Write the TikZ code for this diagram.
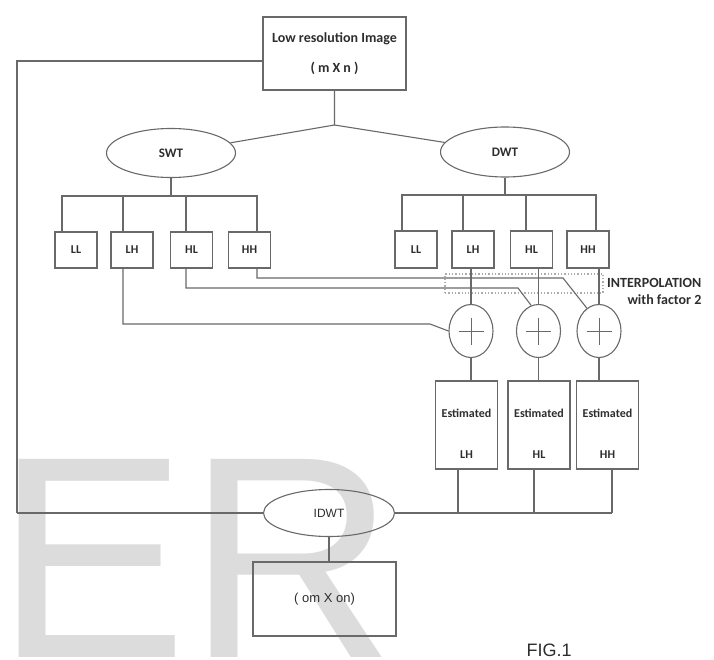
\documentclass[tikz,border=0pt]{standalone}
\usepackage{fontspec}
\setmainfont{Carlito}
\newfontfamily\arialfont{Liberation Sans}
\usetikzlibrary{positioning,shapes.geometric}
\definecolor{wline}{RGB}{105,105,105}
\definecolor{wtext}{RGB}{45,45,45}
\definecolor{wmark}{RGB}{220,220,220}

\begin{document}
\begin{tikzpicture}[x=1pt, y=-1pt,
    box/.style={rectangle, draw=wline, line width=1.1pt, inner sep=0pt, align=center,
                text=wtext, font=\bfseries\fontsize{12}{14}\selectfont},
    oval/.style={ellipse, draw=wline, line width=1.1pt, inner sep=0pt, text=wtext,
                 font=\bfseries\fontsize{13}{15}\selectfont},
    adder/.style={ellipse, draw=wline, line width=1.1pt, minimum width=44pt, minimum height=53pt, inner sep=0pt,
                  path picture={\draw[wline, line width=1pt]
                    ([xshift=-12.5pt]path picture bounding box.center) -- ([xshift=12.5pt]path picture bounding box.center)
                    ([yshift=-13.5pt]path picture bounding box.center) -- ([yshift=13.5pt]path picture bounding box.center);}},
    wire/.style={draw=wline, line width=1.1pt},
    band/.style={draw=wline!55, dotted, line width=1.3pt, inner sep=0pt}
  ]
    \useasboundingbox (0,0) rectangle (714,660);
    % watermark
    \begin{scope}
      \clip (0,0) rectangle (714,660);
      \node[anchor=base west, inner sep=0pt, text=wmark, font=\arialfont\fontsize{288}{288}\selectfont] (mark) at (-5,657) {ER};
    \end{scope}

    \node[box, minimum width=143pt, minimum height=73pt, font=\bfseries\fontsize{14}{16}\selectfont] (lowres) at (334.5,53.5)
      {Low resolution Image\\[14pt]( m X n )};
    \node[oval, minimum width=129pt, minimum height=49pt] (swt) at (171,153) {SWT};
    \node[oval, minimum width=129pt, minimum height=50pt] (dwt) at (505,152) {DWT};

    \foreach \n/\x in {LL/76, LH/132, HL/191.5, HH/249.5}
      \node[box, minimum width=42pt, minimum height=36pt] (s\n) at (\x,250) {\n};
    \foreach \n/\x in {LL/416, LH/473, HL/531.5, HH/588}
      \node[box, minimum width=42pt, minimum height=37pt] (d\n) at (\x,249.5) {\n};

    \node[band, minimum width=158pt, minimum height=19pt] (interp) at (524,283.5) {};
    \node[anchor=north west, align=right, inner sep=0pt, text=wtext, font=\bfseries\fontsize{14}{17}\selectfont]
      (interplbl) at (607,278) {INTERPOLATION\\with factor 2};

    \foreach \i/\x in {1/471, 2/538.5, 3/599}
      \node[adder] (add\i) at (\x,331) {};
    \foreach \i/\x/\b in {1/466.5/LH, 2/539/HL, 3/607.5/HH}
      \node[box, minimum width=62pt, minimum height=88pt] (est\i) at (\x,425) {\mbox{}\\[12pt]Estimated\\[27pt]\b};

    \node[oval, minimum width=131pt, minimum height=47pt, font=\arialfont\fontsize{12}{14}\selectfont] (idwt) at (329,513) {IDWT};
    \node[box, minimum width=143pt, minimum height=74pt, font=\arialfont\fontsize{13}{15}\selectfont] (out) at (324.5,599) {( om X on)};
    \node[text=wtext, font=\arialfont\fontsize{18}{20}\selectfont] (fig) at (549,650) {FIG.1};

    % decomposition
    \coordinate (split) at (334.5,125);
    \draw[wire] (lowres.south) -- (split) -- (swt);
    \draw[wire] (split) -- (dwt);

    \coordinate (sbar) at (168,196);
    \draw[wire] (swt.south) -- (swt.south |- sbar);
    \draw[wire] ([xshift=-14pt]sLL.north) |- ([xshift=7.5pt]sHH.north |- sbar) -- ([xshift=7.5pt]sHH.north);
    \foreach \n/\dx in {LH/-9, HL/-5.5}
      \draw[wire] ([xshift=\dx pt]s\n.north) -- ([xshift=\dx pt]s\n.north |- sbar);

    \coordinate (dbar) at (508,195);
    \draw[wire] (dwt.south) -- (dwt.south |- dbar);
    \draw[wire] ([xshift=-14pt]dLL.north) |- ([xshift=8pt]dHH.north |- dbar) -- ([xshift=8pt]dHH.north);
    \foreach \n/\dx in {LH/-10, HL/-5.5}
      \draw[wire] ([xshift=\dx pt]d\n.north) -- ([xshift=\dx pt]d\n.north |- dbar);

    % sub-bands into the adders
    \foreach \b/\i in {LH/1, HL/2, HH/3}
      \draw[wire] (add\i.north) -- (add\i.north |- d\b.south);
    \coordinate (hhbend) at (563,278);
    \coordinate (hlbend) at (518,288);
    \coordinate (lhbend) at (430,324);
    \draw[wire] ([xshift=7.5pt]sHH.south) |- (hhbend) -- (add3.118);
    \draw[wire] ([xshift=-5.5pt]sHL.south) |- (hlbend) -- (add2.106);
    \draw[wire] ([xshift=-9pt]sLH.south) |- (lhbend) -- (add1.west);
    \foreach \i in {1,2,3}
      \draw[wire] (add\i.south) -- (add\i.south |- est\i.north);

    % reconstruction
    \coordinate (loop) at (17,513);
    \coordinate (busend) at (612,513);
    \draw[wire] ([yshift=-7.5pt]lowres.west) -| (loop);
    \draw[wire, line width=2.4pt] (loop) -- (idwt.west);
    \draw[wire, line width=2pt] (idwt.east) -- (busend);
    \foreach \i/\dx in {1/-8.5, 2/-5, 3/4.5}
      \draw[wire] ([xshift=\dx pt]est\i.south) -- ([xshift=\dx pt]est\i.south |- busend);
    \draw[wire] (idwt.south) -- (idwt.south |- out.north);
  \end{tikzpicture}
\end{document}
